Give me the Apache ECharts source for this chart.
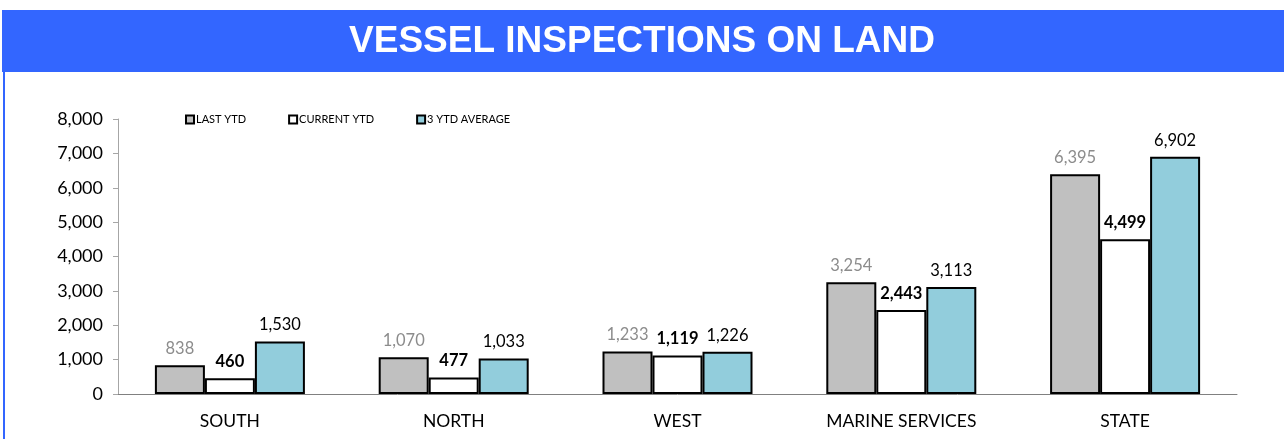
<!DOCTYPE html>
<html>
<head>
<meta charset="utf-8">
<style>
  html, body { margin: 0; padding: 0; background: #fff; }
  #chart { width: 1284px; height: 439px; }
</style>
<script src="https://cdn.jsdelivr.net/npm/echarts@6/dist/echarts.min.js"></script>
</head>
<body>
<div id="chart"></div>
<script>
const categories = ['SOUTH', 'NORTH', 'WEST', 'MARINE SERVICES', 'STATE'];
const lastYtd = [838, 1070, 1233, 3254, 6395];
const currentYtd = [460, 477, 1119, 2443, 4499];
const avg3Ytd = [1530, 1033, 1226, 3113, 6902];
const seriesNames = ['LAST YTD', 'CURRENT YTD', '3 YTD AVERAGE'];

const FONT = 'Lato, "Open Sans", sans-serif';
const fmt = v => v.toLocaleString('en-US');

const chart = echarts.init(document.getElementById('chart'), null, { renderer: 'canvas' });

function barSeries(name, data, fill, labelColor, bold) {
  return {
    name: name,
    type: 'bar',
    data: data,
    barWidth: 50,
    barGap: '0%',
    itemStyle: { color: fill, borderColor: '#000', borderWidth: 2 },
    label: {
      show: true,
      position: 'top',
      distance: 8,
      color: labelColor,
      fontFamily: FONT,
      fontSize: 16.5,
      fontWeight: bold ? 'bold' : 'normal',
      formatter: p => fmt(p.value)
    }
  };
}

chart.setOption({
  animation: false,
  backgroundColor: '#fff',
  graphic: [
    { type: 'rect', shape: { x: 2, y: 10, width: 1290, height: 62 }, style: { fill: '#3366FF' }, z: -1 },
    { type: 'rect', shape: { x: 3, y: 70, width: 2, height: 380 }, style: { fill: '#3366FF' }, z: -1 }
  ],
  title: {
    text: 'VESSEL INSPECTIONS ON LAND',
    left: 'center',
    top: 18,
    textStyle: {
      color: '#fff',
      fontFamily: '"Liberation Sans", Arial, sans-serif',
      fontWeight: 'bold',
      fontSize: 37
    }
  },
  legend: {
    data: seriesNames,
    left: 180,
    top: 109,
    icon: 'rect',
    itemWidth: 8,
    itemHeight: 8,
    itemGap: 42,
    textStyle: { fontFamily: FONT, fontSize: 11, color: '#000', padding: [0, 0, 0, -3] },
    itemStyle: { borderColor: '#000', borderWidth: 2 }
  },
  grid: { left: 118, right: 47, top: 119, bottom: 45, containLabel: false },
  xAxis: {
    type: 'category',
    data: categories,
    axisLine: { lineStyle: { color: '#808080', width: 1 } },
    axisTick: { show: false },
    axisLabel: { color: '#000', fontFamily: FONT, fontSize: 17.5, margin: 18 }
  },
  yAxis: {
    type: 'value',
    min: 0,
    max: 8000,
    interval: 1000,
    axisLine: { show: true, lineStyle: { color: '#a6a6a6' } },
    axisTick: { show: true, inside: false, length: 5, lineStyle: { color: '#a6a6a6' } },
    splitLine: { show: false },
    axisLabel: { color: '#000', fontFamily: FONT, fontSize: 18, margin: 15, formatter: v => fmt(v) }
  },
  series: [
    barSeries(seriesNames[0], lastYtd, '#C0C0C0', '#8c8c8c', false),
    barSeries(seriesNames[1], currentYtd, '#FFFFFF', '#000', true),
    barSeries(seriesNames[2], avg3Ytd, '#92CDDC', '#000', false)
  ]
});
</script>
</body>
</html>
